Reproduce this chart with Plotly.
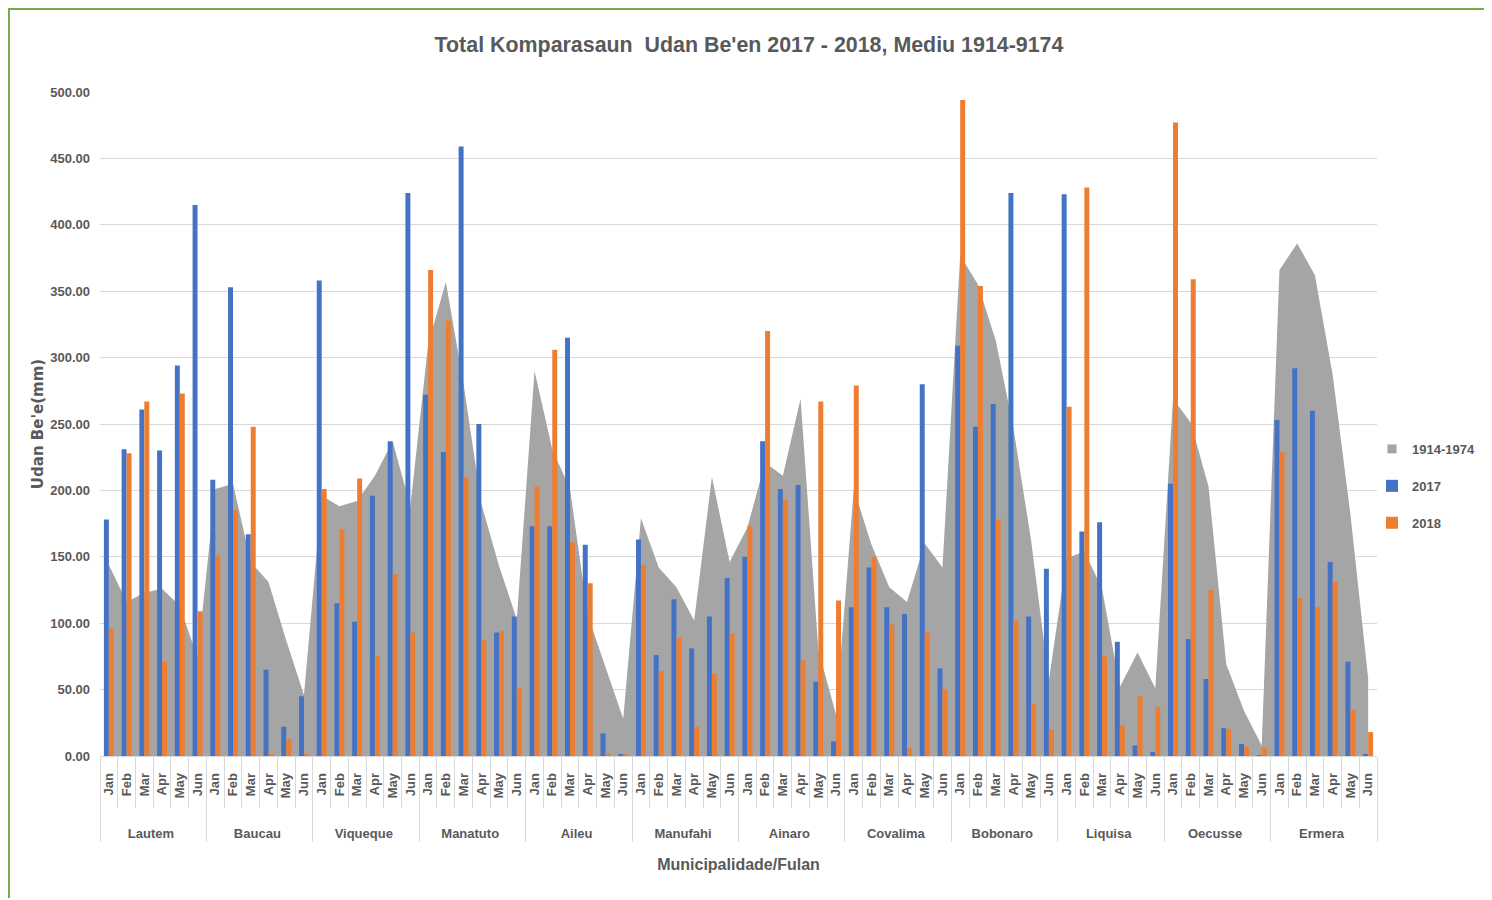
import plotly.graph_objects as go

municipalities = ["Lautem", "Baucau", "Viqueque", "Manatuto", "Aileu", "Manufahi",
                  "Ainaro", "Covalima", "Bobonaro", "Liquisa", "Oecusse", "Ermera"]
months = ["Jan", "Feb", "Mar", "Apr", "May", "Jun"]

avg_1914_1974 = [
    144, 116, 123, 126, 113, 74,    # Lautem
    201, 205, 146, 131, 87, 46,     # Baucau
    196, 188, 192, 211, 237, 188,   # Viqueque
    310, 357, 280, 190, 143, 103,   # Manatuto
    290, 231, 201, 106, 67, 28,     # Aileu
    179, 142, 127, 102, 210, 146,   # Manufahi
    172, 221, 211, 269, 80, 31,     # Ainaro
    201, 159, 127, 116, 160, 142,   # Covalima
    377, 355, 313, 247, 162, 57,    # Bobonaro
    149, 154, 126, 52, 78, 51,      # Liquisa
    269, 251, 203, 69, 34, 8,       # Oecusse
    366, 386, 362, 287, 182, 59,    # Ermera
]

rain_2017 = [
    178, 231, 261, 230, 294, 415,
    208, 353, 167, 65, 22, 45,
    358, 115, 101, 196, 237, 424,
    272, 229, 459, 250, 93, 105,
    173, 173, 315, 159, 17, 1,
    163, 76, 118, 81, 105, 134,
    150, 237, 201, 204, 56, 11,
    112, 142, 112, 107, 280, 66,
    309, 248, 265, 424, 105, 141,
    423, 169, 176, 86, 8, 3,
    205, 88, 58, 21, 9, 0.5,
    253, 292, 260, 146, 71, 1,
]

rain_2018 = [
    96, 228, 267, 71, 273, 109,
    151, 185, 248, 1, 13, 1,
    201, 171, 209, 75, 137, 93,
    366, 328, 210, 87, 94, 51,
    203, 306, 161, 130, 2, 1,
    144, 64, 89, 22, 62, 92,
    173, 320, 193, 72, 267, 117,
    279, 150, 99, 6, 93, 50,
    494, 354, 178, 102, 39, 20,
    263, 428, 75, 23, 45, 37,
    477, 359, 125, 20, 7, 6,
    229, 119, 112, 131, 35, 18,
]

# non-breaking spaces around the rotated month labels: a small gap below the
# axis, and room above the municipality row (as in the original)
LEAD = "\u00a0" * 4
TRAIL = "\u00a0" * 3
x_muni = [m for m in municipalities for _ in months]
x_month = [LEAD + mo + TRAIL for mo in months] * len(municipalities)
x_cat = [x_muni, x_month]

TXT = "#595959"
SANS = "Liberation Sans, Arial, sans-serif"

fig = go.Figure()
# legend proxy (square swatch like the original legend)
fig.add_trace(go.Scatter(
    x=[None], y=[None], name="1914-1974", mode="markers",
    marker=dict(symbol="square", size=9, color="#A5A5A5"), legendgroup="g1",
))
fig.add_trace(go.Scatter(
    x=x_cat, y=avg_1914_1974, name="1914-1974", mode="none",
    fill="tozeroy", fillcolor="#A5A5A5", legendgroup="g1", showlegend=False,
))
fig.add_trace(go.Bar(
    x=x_cat, y=rain_2017, name="2017", marker_color="#4472C4",
    marker_line_width=0, yaxis="y2", legendgroup="g2",
))
fig.add_trace(go.Bar(
    x=x_cat, y=rain_2018, name="2018", marker_color="#ED7D31",
    marker_line_width=0, yaxis="y2", legendgroup="g3",
))

W, H = 1482, 890
fig.update_layout(
    width=W, height=H,
    margin=dict(l=92, r=W - 1369, t=84, b=H - 748, autoexpand=False),
    paper_bgcolor="white", plot_bgcolor="white",
    barmode="group", bargap=0.44, bargroupgap=0,
    title=dict(
        text="Total Komparasaun  Udan Be'en 2017 - 2018, Mediu 1914-9174",
        x=0.5, xanchor="center", xref="container",
        y=1 - 37 / H, yanchor="middle", yref="container",
        font=dict(family=SANS, size=21.4, color=TXT, weight="bold"),
    ),
    xaxis=dict(
        type="multicategory",
        tickangle=-90,
        tickfont=dict(family=SANS, size=13, color=TXT, weight="bold"),
        showdividers=True, dividercolor="#D9D9D9", dividerwidth=1,
        ticks="outside", tickson="boundaries", ticklen=51, tickcolor="#D9D9D9",
        showline=True, linecolor="#D9D9D9", linewidth=1,
        showgrid=False,
        title=dict(text="Municipalidade/Fulan", standoff=18,
                   font=dict(family=SANS, size=16, color=TXT, weight="bold")),
    ),
    yaxis=dict(
        range=[0, 500], dtick=50, tickformat=".2f",
        gridcolor="#D9D9D9", gridwidth=1, zeroline=False, showline=False,
        ticks="", ticklabelstandoff=9,
        tickfont=dict(family=SANS, size=13, color=TXT, weight="bold"),
        title=dict(text="Udan Be'e(mm)", standoff=2,
                   font=dict(family="DejaVu Sans, Verdana, sans-serif", size=15, color=TXT, weight="bold")),
    ),
    yaxis2=dict(range=[0, 500], overlaying="y", visible=False),
    legend=dict(
        xref="container", x=1364 / W, xanchor="left",
        yref="container", y=1 - 478 / H, yanchor="middle",
        font=dict(family=SANS, size=13, color=TXT, weight="bold"),
        tracegroupgap=17, itemwidth=30, bgcolor="rgba(0,0,0,0)",
    ),
    shapes=[dict(
        type="rect", xref="paper", yref="paper",
        x0=-0.0713, x1=1.0861, y0=-0.235, y1=1.125,
        line=dict(color="#70AD47", width=2), fillcolor="rgba(0,0,0,0)", layer="above",
    )],
)

fig.write_html("out.html")
